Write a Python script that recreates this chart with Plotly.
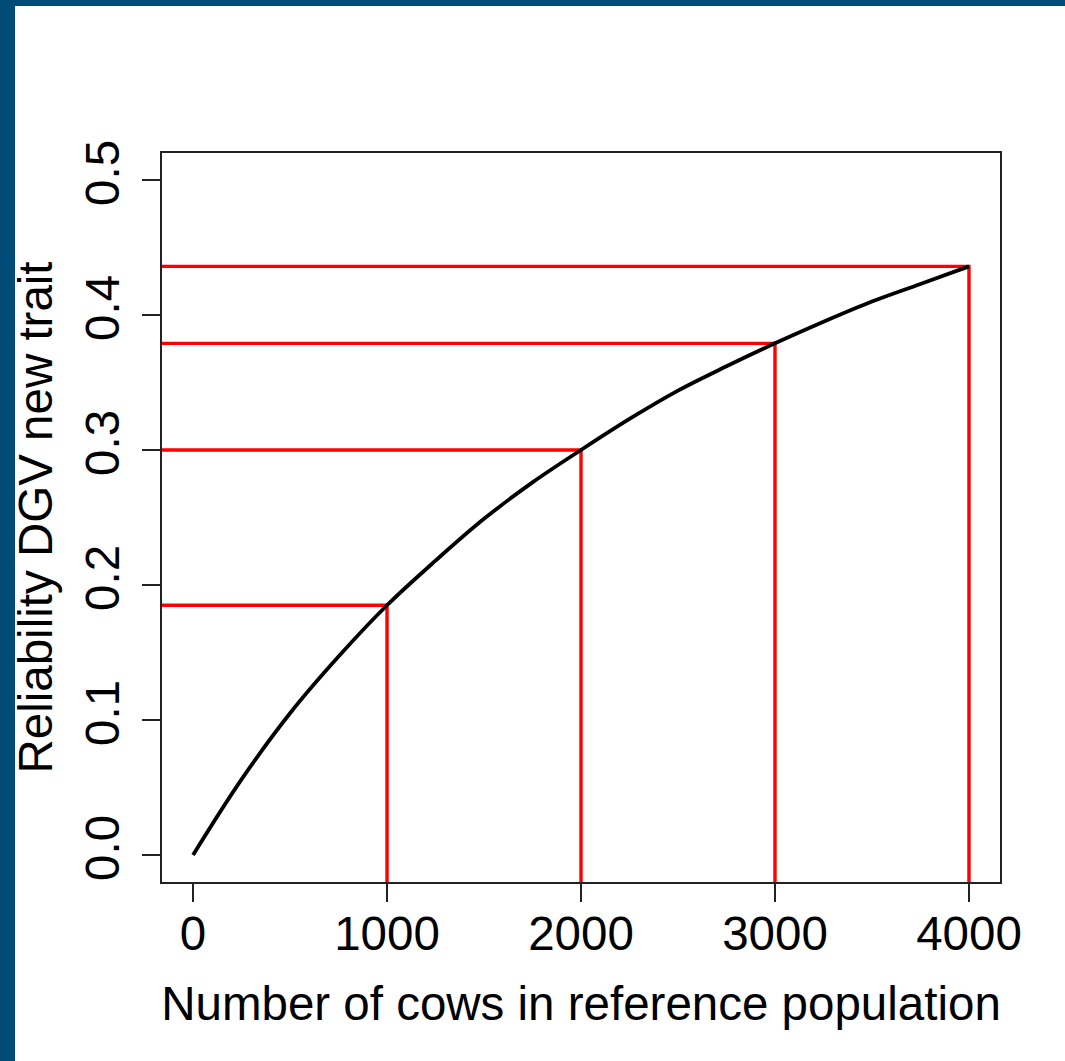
import plotly.graph_objects as go

# Data
cows = [0, 250, 500, 750, 1000, 1250, 1500, 1750, 2000, 2250, 2500, 2750,
        3000, 3250, 3500, 3750, 4000]
reliability = [0.0, 0.056, 0.105, 0.147, 0.185, 0.218, 0.249, 0.276, 0.300,
               0.323, 0.344, 0.362, 0.379, 0.395, 0.410, 0.423, 0.436]
mark_cows = [1000, 2000, 3000, 4000]
mark_rel = [0.185, 0.300, 0.379, 0.436]
x_ticks = [0, 1000, 2000, 3000, 4000]
y_ticks = [0.0, 0.1, 0.2, 0.3, 0.4, 0.5]
y_tick_labels = ["0.0", "0.1", "0.2", "0.3", "0.4", "0.5"]

x_range = [-160, 4160]
y_range = [-0.02, 0.52]

FONT = "Liberation Sans, Arial, sans-serif"
BLUE = "#014b79"
FS = 47.5

fig = go.Figure()

# red guide lines (horizontal to the left edge, vertical to the bottom)
for xc, yc in zip(mark_cows, mark_rel):
    fig.add_trace(go.Scatter(x=[x_range[0], xc, xc], y=[yc, yc, y_range[0]],
                             mode="lines", line=dict(color="#ff0000", width=3.4),
                             hoverinfo="skip", showlegend=False))

fig.add_trace(go.Scatter(x=cows, y=reliability, mode="lines",
                         line=dict(color="black", width=3.8, shape="spline"),
                         showlegend=False))

# invisible trace to carry the label axis
fig.add_trace(go.Scatter(x=[x_ticks[0], x_ticks[-1]], y=[y_ticks[0], y_ticks[0]],
                         xaxis="x2", mode="markers", marker=dict(opacity=0),
                         hoverinfo="skip", showlegend=False))

fig.update_layout(
    width=1065, height=1061,
    margin=dict(l=162, r=65, t=153, b=179),
    paper_bgcolor="white", plot_bgcolor="white",
    font=dict(family=FONT, size=FS, color="black"),
    xaxis=dict(range=x_range, tickvals=x_ticks, ticks="outside", ticklen=18,
               tickwidth=2, tickcolor="#222", showline=True, linecolor="#222",
               linewidth=2, mirror=True, showgrid=False, zeroline=False,
               showticklabels=False, automargin=False),
    xaxis2=dict(range=x_range, tickvals=x_ticks, ticks="", overlaying="x",
                side="bottom", anchor="y", showline=False, showgrid=False,
                zeroline=False, tickfont=dict(size=FS), ticklabelstandoff=19,
                automargin=False,
                title=dict(text="Number of cows in reference population",
                           font=dict(size=FS), standoff=28)),
    yaxis=dict(range=y_range, tickvals=y_ticks, ticktext=y_tick_labels,
               ticks="outside", ticklen=18, tickwidth=2, tickcolor="#222",
               showline=True, linecolor="#222", linewidth=2, mirror=True,
               showgrid=False, zeroline=False, tickangle=-90,
               tickfont=dict(size=FS), ticklabelstandoff=4, automargin=False,
               title=dict(text="Reliability DGV new trait",
                          font=dict(size=FS), standoff=8)),
    shapes=[
        dict(type="rect", xref="paper", yref="paper",
             x0=-162/838, x1=-147/838, y0=-179/729, y1=(729+153)/729,
             fillcolor=BLUE, line=dict(width=0), layer="above"),
        dict(type="rect", xref="paper", yref="paper",
             x0=-162/838, x1=(838+65)/838, y0=(729+153-6)/729, y1=(729+153)/729,
             fillcolor=BLUE, line=dict(width=0), layer="above"),
    ],
)

fig.write_html("out.html", config={"displayModeBar": False},
               post_script="document.body.style.margin='0';document.body.style.overflow='hidden';")
